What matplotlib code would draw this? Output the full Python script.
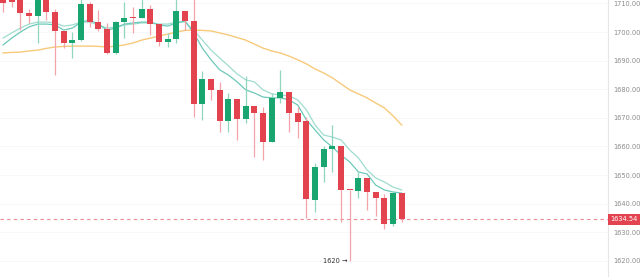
"""Daily candlestick chart with moving averages and last-price marker."""

import matplotlib
matplotlib.use("Agg")
import matplotlib.pyplot as plt
import numpy as np

# OHLC per session
opens = [1713.0, 1712.0, 1712.5, 1706.7, 1705.6, 1712.0, 1707.0, 1700.4, 1696.2, 1697.2,
         1709.8, 1703.5, 1701.1, 1692.7, 1703.5, 1705.3, 1704.9, 1708.1, 1702.8, 1696.5,
         1697.6, 1707.4, 1703.9, 1674.9, 1683.6, 1679.8, 1668.9, 1676.6, 1669.6, 1674.2,
         1671.7, 1661.6, 1677.0, 1679.1, 1671.7, 1668.9, 1641.3, 1652.8, 1659.1, 1660.2,
         1644.9, 1644.4, 1649.0, 1644.1, 1642.0, 1632.9, 1643.7]
highs = [1714.0, 1713.0, 1713.0, 1708.0, 1713.0, 1713.0, 1708.0, 1700.4, 1700.0, 1711.5,
         1710.5, 1707.7, 1703.2, 1704.0, 1710.5, 1708.8, 1711.5, 1709.5, 1702.8, 1699.7,
         1711.5, 1707.4, 1712.0, 1686.4, 1683.6, 1682.5, 1678.7, 1676.6, 1684.6, 1674.2,
         1673.8, 1678.7, 1686.8, 1679.1, 1673.8, 1670.3, 1654.2, 1660.2, 1667.5, 1660.2,
         1644.9, 1651.1, 1649.0, 1644.1, 1643.4, 1643.7, 1643.7]
lows = [1707.0, 1708.8, 1700.7, 1703.2, 1696.2, 1704.2, 1685.0, 1694.4, 1690.9, 1697.0,
        1701.8, 1700.5, 1692.3, 1692.3, 1697.9, 1699.7, 1704.9, 1699.0, 1695.1, 1694.8,
        1696.2, 1700.7, 1670.3, 1669.3, 1676.3, 1665.1, 1665.1, 1662.3, 1668.2, 1656.3,
        1655.3, 1661.6, 1675.2, 1665.1, 1663.0, 1635.0, 1637.1, 1647.6, 1651.1, 1633.6,
        1620.0, 1642.0, 1637.8, 1635.7, 1631.2, 1632.2, 1633.6]
closes = [1710.2, 1710.5, 1706.7, 1705.6, 1712.0, 1707.0, 1700.4, 1696.2, 1697.2, 1709.8,
          1703.5, 1701.1, 1692.7, 1703.5, 1704.9, 1704.9, 1708.1, 1702.8, 1696.5, 1697.6,
          1707.4, 1703.9, 1674.9, 1683.6, 1679.8, 1668.9, 1676.6, 1669.6, 1674.2, 1671.7,
          1661.6, 1677.0, 1679.1, 1671.7, 1668.6, 1641.6, 1652.8, 1659.1, 1660.2, 1644.8,
          1644.7, 1649.0, 1644.1, 1642.0, 1632.9, 1643.7, 1634.54]

ma_fast = [1695.5, 1697.9, 1700.0, 1701.8, 1702.8, 1702.8, 1702.5, 1700.7, 1701.4, 1703.5,
           1704.2, 1702.8, 1700.7, 1701.4, 1702.8, 1703.2, 1703.5, 1703.5, 1702.5, 1702.1,
           1703.2, 1703.9, 1699.7, 1694.4, 1690.3, 1686.8, 1685.0, 1682.6, 1679.8, 1678.7,
           1677.3, 1677.0, 1677.0, 1676.3, 1674.5, 1669.3, 1665.8, 1662.3, 1659.8, 1657.0,
           1654.6, 1651.1, 1650.4, 1646.5, 1644.8, 1644.1, 1643.7]
ma_mid = [1697.9, 1699.7, 1701.4, 1702.8, 1703.5, 1703.5, 1703.2, 1702.1, 1702.5, 1703.5,
          1703.5, 1702.5, 1701.4, 1701.8, 1702.5, 1702.8, 1703.2, 1703.2, 1702.8, 1702.8,
          1703.5, 1703.5, 1700.7, 1697.2, 1693.7, 1690.9, 1688.2, 1685.4, 1683.3, 1682.6,
          1679.8, 1678.4, 1678.0, 1677.7, 1676.3, 1672.8, 1667.5, 1664.0, 1663.3, 1662.3,
          1658.8, 1656.0, 1651.8, 1649.0, 1647.6, 1645.8, 1644.8]
ma_slow = [1692.7, 1692.9, 1693.0, 1693.4, 1693.7, 1694.3, 1694.8, 1695.0, 1695.1, 1695.1,
           1695.1, 1695.0, 1694.8, 1695.1, 1695.5, 1696.2, 1697.2, 1697.9, 1698.6, 1699.3,
           1700.0, 1700.6, 1700.7, 1700.6, 1700.4, 1699.7, 1699.0, 1698.1, 1697.2, 1695.8,
           1694.4, 1693.4, 1692.7, 1691.6, 1690.3, 1688.9, 1687.1, 1685.7, 1684.0, 1681.9,
           1679.8, 1678.4, 1677.0, 1675.2, 1673.5, 1670.7, 1667.5]

price_ticks = [1620, 1630, 1640, 1650, 1660, 1670, 1680, 1690, 1700, 1710]
last_price = 1634.54
low_label = "1620"

UP = "#18a56f"
DOWN = "#e2434f"
DOWN_LIGHT = "#f3a3aa"
UP_LIGHT = "#8fd6bc"

fig = plt.figure(figsize=(6.4, 2.77), dpi=100)
ax = fig.add_axes([0, 0, 608 / 640, 1])

x = np.arange(len(opens))
o = np.array(opens)
h = np.array(highs)
l = np.array(lows)
c = np.array(closes)
up = c >= o

# wicks first, bodies on top
ax.vlines(x[up], l[up], h[up], color=UP_LIGHT, lw=0.9, zorder=2)
ax.vlines(x[~up], l[~up], h[~up], color=DOWN_LIGHT, lw=0.9, zorder=2)
body = np.maximum(np.abs(c - o), 0.35)
bottom = np.minimum(o, c)
ax.bar(x, body, bottom=bottom, width=0.68,
       color=np.where(up, UP, DOWN), edgecolor="none", zorder=3)

ax.plot(x, ma_slow, color="#f7c97a", lw=1.0, zorder=1)
ax.plot(x, ma_mid, color="#9fdccf", lw=0.9, zorder=1)
ax.plot(x, ma_fast, color="#6cc9b9", lw=0.9, zorder=1)

# last price guide and tag
ax.axhline(last_price, color="#ec8a90", lw=0.8, ls=(0, (3, 3)), zorder=1)
ax.annotate(f"{last_price:.2f}", xy=(1.0, last_price), xycoords=("axes fraction", "data"),
            xytext=(2, 0), textcoords="offset points", ha="left", va="center",
            fontsize=4.8, color="white",
            bbox=dict(boxstyle="square,pad=0.35", fc="#e2434f", ec="none"),
            annotation_clip=False)

# lowest low marker
i_low = int(np.argmin(l))
ax.annotate(f"{low_label} \u2192", xy=(i_low, l[i_low]), xytext=(-1.5, 0),
            textcoords="offset points", ha="right", va="center",
            fontsize=4.8, color="#333333")

ax.set_xlim(-0.35, 69.8)
ax.set_ylim(1614.37, 1711.22)
ax.yaxis.tick_right()
ax.set_yticks(price_ticks)
ax.set_yticklabels([f"{t:.2f}" for t in price_ticks])
ax.tick_params(axis="y", length=0, pad=3.5, labelsize=4.8, labelcolor="#8a8a8a")
ax.set_xticks([])
for side in ("top", "left", "bottom"):
    ax.spines[side].set_visible(False)
ax.spines["right"].set_color("#e6e6e6")
ax.spines["right"].set_linewidth(0.8)
ax.grid(axis="y", color="#f7f7f7", lw=0.6)
ax.set_axisbelow(True)

fig.savefig("out.png", dpi=100)
